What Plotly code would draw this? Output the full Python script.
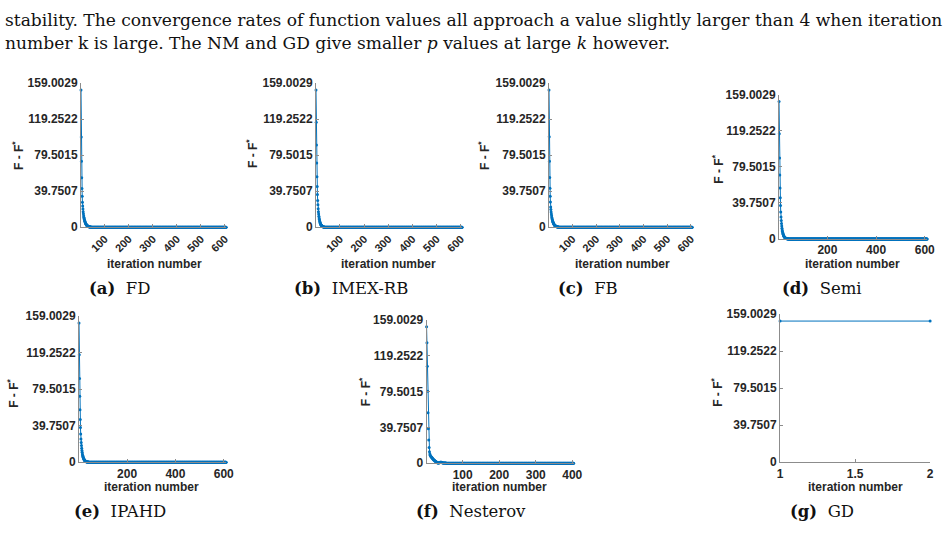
import plotly.graph_objects as go

W, H = 948, 552

# ---------------- data ----------------
y_tick_vals = [0, 39.7507, 79.5015, 119.2522, 159.0029]
y_tick_text = ["0", "39.7507", "79.5015", "119.2522", "159.0029"]
y_max = 159.0029

fd_iters = 605
fd_head = [151.43, 99.6, 72.7, 54.7, 42.8, 34.2, 27.7, 23.4, 20.1, 17.2, 14.8, 12.8,
           11.1, 9.7, 8.5, 7.4, 6.5, 5.7, 5.0, 4.4, 3.9, 3.4, 3.0, 2.6, 2.3, 2.0, 1.8,
           1.6, 1.4, 1.2, 1.05, 0.92, 0.8, 0.7, 0.6, 0.5, 0.42, 0.35, 0.3, 0.25, 0.2,
           0.16, 0.13, 0.1, 0.08, 0.06, 0.05, 0.04, 0.03, 0.02]

imex_iters = 605
imex_head = [151.43, 115.8, 90.6, 70.9, 55.8, 45.0, 36.0, 29.5, 24.8, 20.5, 17.2, 14.5,
             12.2, 10.3, 8.7, 7.3, 6.2, 5.2, 4.4, 3.7, 3.1, 2.6, 2.2, 1.85, 1.55, 1.3,
             1.1, 0.9, 0.75, 0.62, 0.5, 0.4, 0.32, 0.25, 0.2, 0.15, 0.11, 0.08, 0.06,
             0.04, 0.03, 0.02]

fb_iters = 605
fb_head = [151.43, 99.8, 72.9, 54.8, 42.9, 34.3, 27.8, 22.3, 19.6, 16.9, 14.6, 12.6,
           10.9, 9.5, 8.3, 7.3, 6.4, 5.6, 4.9, 4.3, 3.8, 3.3, 2.9, 2.5, 2.2, 1.9, 1.7,
           1.5, 1.3, 1.15, 1.0, 0.88, 0.76, 0.66, 0.56, 0.47, 0.4, 0.33, 0.27, 0.22,
           0.18, 0.14, 0.11, 0.08, 0.06, 0.04, 0.03, 0.02]

semi_iters = 610
semi_head = [151.43, 115.9, 89.3, 70.4, 56.1, 45.4, 36.8, 29.7, 24.3, 20.4, 17.0, 14.2,
             11.9, 10.0, 8.4, 7.1, 6.0, 5.1, 4.3, 3.6, 3.0, 2.5, 2.1, 1.8, 1.5, 1.25,
             1.05, 0.88, 0.73, 0.6, 0.5, 0.4, 0.32, 0.25, 0.2, 0.15, 0.11, 0.08, 0.06,
             0.04, 0.03, 0.02]

ipahd_iters = 610
ipahd_head = [151.43, 116.8, 91.1, 71.8, 57.0, 46.4, 37.6, 30.6, 25.3, 21.5, 18.0, 15.1,
              12.7, 10.7, 9.0, 7.6, 6.4, 5.4, 4.6, 3.9, 3.3, 2.8, 2.3, 1.95, 1.65, 1.4,
              1.15, 0.95, 0.8, 0.65, 0.53, 0.43, 0.34, 0.27, 0.21, 0.16, 0.12, 0.09,
              0.06, 0.04, 0.03, 0.02]

nest_iters = 404
nest_head = [151.43, 133.7, 107.4, 79.7, 55.9, 38.2, 25.6, 17.3, 12.6, 10.0, 8.8, 8.0,
             7.4, 6.9, 6.4, 5.9, 5.4, 4.9, 4.4, 4.0, 3.6, 3.2, 2.8, 2.5, 2.1, 1.8, 1.5,
             1.2, 0.9, 0.6, 0.35, 0.2, 0.12, 0.15, 0.3, 0.5, 0.7, 0.85, 0.95, 1.0, 0.95,
             0.85, 0.7, 0.55, 0.4, 0.28, 0.18, 0.12, 0.1, 0.1, 0.08, 0.06, 0.04, 0.02]

gd_iters = 2
gd_head = [151.43, 151.43]

panels = [
    # tag, caption, iterations, head values, x tick values, rotated ticks
    ("(a)", "FD", fd_iters, fd_head, [100, 200, 300, 400, 500, 600], True),
    ("(b)", "IMEX-RB", imex_iters, imex_head, [100, 200, 300, 400, 500, 600], True),
    ("(c)", "FB", fb_iters, fb_head, [100, 200, 300, 400, 500, 600], True),
    ("(d)", "Semi", semi_iters, semi_head, [200, 400, 600], False),
    ("(e)", "IPAHD", ipahd_iters, ipahd_head, [200, 400, 600], False),
    ("(f)", "Nesterov", nest_iters, nest_head, [100, 200, 300, 400], False),
    ("(g)", "GD", gd_iters, gd_head, [1, 1.5, 2], False),
]

# ---------------- layout geometry (pixels) ----------------
# axes box: x0, x1, y_top, y_bottom
boxes = [
    (79, 226, 78, 226),
    (317, 465, 78, 226),
    (553, 698, 78, 226),
    (786, 936, 90, 238),
    (77, 226, 317, 467),
    (429, 578, 321, 468),
    (787, 939, 315, 467),
]
ylabel_pos = [(15, 152), (252, 150), (487, 152), (724, 166), (10, 396), (367, 395), (723, 395)]
xlabel_pos = [(153, 264), (390, 264), (627, 264), (860, 264), (150, 493), (503, 493), (863, 493)]
caption_pos = [(118, 289), (352, 289), (593, 289), (830, 289), (118, 518), (474, 518), (830, 518)]

BLUE = "#0072BD"
AXC = "#8c8c8c"
TXT = "#262626"
SANS = "Liberation Sans, Arial, sans-serif"
SERIF = "DejaVu Serif, serif"

fig = go.Figure()
annotations = []

for i, (tag, cap, n, head, xt, rot) in enumerate(panels):
    k = "" if i == 0 else str(i + 1)
    vals = head + [0.0] * (n - len(head))
    xs = list(range(1, n + 1))
    fig.add_trace(go.Scatter(
        x=xs, y=vals, mode="lines+markers",
        line=dict(color=BLUE, width=1),
        marker=dict(color=BLUE, size=3),
        cliponaxis=False, showlegend=False,
        xaxis="x" + k, yaxis="y" + k,
    ))
    x0, x1, yt, yb = boxes[i]
    xax = dict(
        domain=[x0 / W, x1 / W], anchor="y" + k,
        range=[1, n], tickvals=xt, ticktext=[("%g" % v) for v in xt],
        tickangle=-45 if rot else 0,
        showline=True, linecolor=AXC, linewidth=1, mirror=False,
        ticks="inside", ticklen=3, tickcolor=AXC,
        showgrid=False, zeroline=False,
        tickfont=dict(family=SANS, size=11 if rot else 12, color=TXT, weight="bold"),
    )
    yax = dict(
        domain=[1 - yb / H, 1 - yt / H], anchor="x" + k,
        range=[0, y_max], tickvals=y_tick_vals, ticktext=y_tick_text,
        showline=True, linecolor=AXC, linewidth=1, mirror=False,
        ticks="inside", ticklen=3, tickcolor=AXC,
        showgrid=False, zeroline=False,
        tickfont=dict(family=SANS, size=12, color=TXT, weight="bold"),
    )
    fig.update_layout(**{"xaxis" + k: xax, "yaxis" + k: yax})

    lx, ly = ylabel_pos[i]
    annotations.append(dict(
        x=lx / W, y=1 - ly / H, xref="paper", yref="paper", showarrow=False,
        text="<b>F - F<sup>*</sup></b>", textangle=-90,
        font=dict(family=SANS, size=12, color=TXT),
        xanchor="center", yanchor="middle",
    ))
    tx, ty = xlabel_pos[i]
    annotations.append(dict(
        x=tx / W, y=1 - ty / H, xref="paper", yref="paper", showarrow=False,
        text="<b>iteration number</b>",
        font=dict(family=SANS, size=12, color=TXT),
        xanchor="center", yanchor="middle",
    ))
    cx, cy = caption_pos[i]
    annotations.append(dict(
        x=cx / W, y=1 - cy / H, xref="paper", yref="paper", showarrow=False,
        text="<b>" + tag + "</b>  " + cap,
        font=dict(family=SERIF, size=16.5, color="#111"),
        xanchor="center", yanchor="middle",
    ))

line1 = ("stability. The convergence rates of function values all approach a value "
         "slightly larger than 4 when iteration")
line2 = ("number k is large. The NM and GD give smaller <i>p</i> values at large "
         "<i>k</i> however.")
annotations.append(dict(x=0, y=1 - 13 / H, xref="paper", yref="paper", showarrow=False,
                        text=line1, font=dict(family=SERIF, size=17.1, color="#111"),
                        xanchor="left", yanchor="middle"))
annotations.append(dict(x=0, y=1 - 37 / H, xref="paper", yref="paper", showarrow=False,
                        text=line2, font=dict(family=SERIF, size=17.1, color="#111"),
                        xanchor="left", yanchor="middle"))

fig.update_layout(
    width=W, height=H, margin=dict(l=0, r=0, t=0, b=0),
    paper_bgcolor="white", plot_bgcolor="white",
    annotations=annotations, showlegend=False,
)

fig.write_html("out.html")
